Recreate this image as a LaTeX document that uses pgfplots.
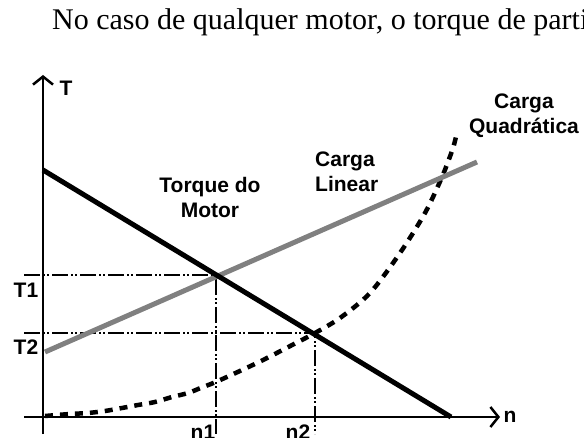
\documentclass[border=0pt]{standalone}
\usepackage{fontspec}
\setmainfont{Liberation Serif}
\newfontfamily\labfont{Liberation Sans}
\usepackage{pgfplots}
\pgfplotsset{compat=1.18}
\usetikzlibrary{arrows.meta}

\tikzset{
  lbl/.style={font=\labfont\bfseries\fontsize{21}{25}\selectfont,inner sep=0pt},
  refl/.style={black,line width=1.2pt,dash pattern=on 16pt off 3pt on 2pt off 2pt on 2pt off 3pt},
  axl/.style={black,line width=1.8pt,-{Straight Barb[length=8pt,width=20pt,line width=2.5pt]}},
}

\begin{document}
\begin{tikzpicture}
\useasboundingbox (0,0) rectangle (584pt,437pt);
\clip (0,0) rectangle (584pt,437pt);
\begin{axis}[
  at={(0,0)},anchor=south west,
  width=584pt,height=437pt,scale only axis,
  xmin=-4.3,xmax=54.1,ymin=-2.0,ymax=41.7,
  hide axis,clip=false]

% operating points
\addplot[refl] coordinates {(-1.9,14.2) (17.3,14.2) (17.3,-1.7)};
\addplot[refl] coordinates {(-1.9,8.4) (27.2,8.4) (27.2,-1.7)};

% axes
\draw[axl] (axis cs:0,-1.7) -- (axis cs:0,34.2);
\draw[axl] (axis cs:-1.9,0) -- (axis cs:45.7,0);

% quadratic load
\addplot[black,line width=4.5pt,dash pattern=on 8pt off 7pt,smooth,tension=0.5] coordinates {
  (0.2,0.1) (2.7,0.3) (4.5,0.4) (6.2,0.6) (7.9,0.9) (9.5,1.2) (11.2,1.5)
  (12.9,2.0) (14.5,2.4) (16.0,3.0) (17.5,3.6) (21.6,5.5) (25.3,7.4)
  (27.2,8.4) (29.7,9.9) (32.7,12.4) (35.7,16.4) (38.2,20.4) (39.9,24.0)
  (41.0,26.9) (41.4,28.5)};

% linear load
\addplot[color=gray,line width=5pt] coordinates {(0.2,6.5) (43.4,25.5)};

% motor torque
\addplot[black,line width=5pt] coordinates {(0,24.7) (40.8,0)};

\node[lbl] at (axis cs:2.3,32.9) {T};
\node[lbl] at (axis cs:46.7,0) {n};
\node[lbl] at (axis cs:-1.7,12.7) {T1};
\node[lbl] at (axis cs:-1.7,7.0) {T2};
\node[lbl] at (axis cs:16.0,-1.5) {n1};
\node[lbl] at (axis cs:25.5,-1.5) {n2};
\node[lbl,align=center] at (axis cs:16.7,22.0) {Torque do\\Motor};
\node[lbl,align=left,anchor=west] at (axis cs:27.2,24.5) {Carga\\Linear};
\node[lbl,align=center] at (axis cs:48.1,30.1) {Carga\\Quadrática};

\node[anchor=base west,inner sep=0pt,font=\fontsize{30}{33}\selectfont]
  at (axis cs:0.9,38.7) {No caso de qualquer motor, o torque de partida};
\end{axis}
\end{tikzpicture}
\end{document}
